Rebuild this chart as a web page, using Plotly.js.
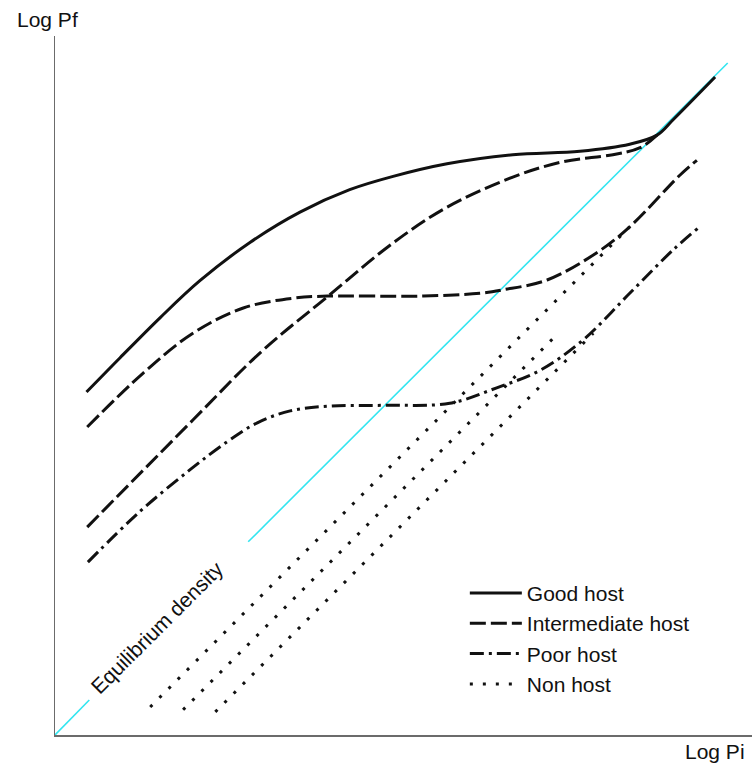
<!DOCTYPE html>
<html>
<head>
<meta charset="utf-8">
<script src="https://cdn.plot.ly/plotly-3.0.1.min.js"></script>
<style>html,body{margin:0;padding:0;background:#fff}#chart{width:752px;height:767px}</style>
</head>
<body>
<div id="chart"></div>
<script>
// Equilibrium density (Pf = Pi), broken where its label sits
const equilibriumX = [0, 0.49, null, 2.76, 9.61];
const equilibriumY = [0, 0.50, null, 2.76, 9.60];

// Good host
const goodX = [0.45, 0.93, 1.50, 2.07, 2.79, 3.50, 4.21, 4.83, 5.60, 6.54, 7.50, 8.21, 8.60, 8.83, 9.43];
const goodY = [4.90, 5.39, 5.96, 6.49, 7.04, 7.47, 7.79, 7.98, 8.16, 8.29, 8.34, 8.44, 8.57, 8.79, 9.40];

// Intermediate host (two curves)
const interAX = [0.46, 1.26, 1.97, 2.69, 3.40, 3.89, 5.21, 6.07, 6.40, 7.03, 7.74, 8.21, 8.93, 9.17];
const interAY = [4.40, 5.17, 5.74, 6.10, 6.24, 6.27, 6.27, 6.31, 6.36, 6.50, 6.89, 7.26, 8.00, 8.21];
const interBX = [0.46, 1.97, 2.93, 3.89, 4.83, 5.60, 6.54, 7.26, 7.97, 8.36, 8.60];
const interBY = [2.97, 4.50, 5.46, 6.26, 7.03, 7.54, 7.97, 8.19, 8.29, 8.39, 8.57];

// Poor host
const poorX = [0.47, 1.21, 1.93, 2.46, 2.89, 3.36, 3.93, 4.69, 5.64, 6.31, 6.93, 7.54, 8.21, 8.83, 9.21];
const poorY = [2.47, 3.19, 3.79, 4.19, 4.46, 4.63, 4.70, 4.71, 4.74, 4.96, 5.21, 5.64, 6.31, 6.93, 7.26];

// Non host (three lines)
const nonAX = [1.36, 7.74, 8.21];
const nonAY = [0.40, 6.79, 7.26];
const nonBX = [1.83, 7.19];
const nonBY = [0.36, 5.74];
const nonCX = [2.29, 7.69];
const nonCY = [0.33, 5.74];

const legendNames = ['Good host', 'Intermediate host', 'Poor host', 'Non host'];
const axisTitleX = 'Log Pi';
const axisTitleY = 'Log Pf';
const equilibriumLabel = 'Equilibrium density';
const labelPos = [1.46, 1.53];

const FONT = 'Liberation Sans, Arial, Helvetica, sans-serif';
const INK = '#111111';
const DASH_LONG = '16px,5px';
const DASH_DOTDASH = '14px,5px,3px,5px';
const DASH_DOT = '3px,10px';

function curve(x, y, name, dash, group, showlegend, shape) {
  return {
    type: 'scatter', mode: 'lines', x: x, y: y, name: name,
    legendgroup: group, showlegend: showlegend,
    line: {color: INK, width: 3, dash: dash, shape: shape || 'spline', smoothing: 1},
    hoverinfo: 'skip'
  };
}

const traces = [
  {type: 'scatter', mode: 'lines', x: equilibriumX, y: equilibriumY, showlegend: false,
   connectgaps: false, line: {color: '#33E5F0', width: 1.6}, hoverinfo: 'skip'},
  curve(goodX, goodY, legendNames[0], 'solid', 'g', true),
  curve(interAX, interAY, legendNames[1], DASH_LONG, 'i', true),
  curve(interBX, interBY, legendNames[1], DASH_LONG, 'i', false),
  curve(poorX, poorY, legendNames[2], DASH_DOTDASH, 'p', true),
  curve(nonAX, nonAY, legendNames[3], DASH_DOT, 'n', true, 'linear'),
  curve(nonBX, nonBY, legendNames[3], DASH_DOT, 'n', false, 'linear'),
  curve(nonCX, nonCY, legendNames[3], DASH_DOT, 'n', false, 'linear')
];

const axisCommon = {
  showline: true, linecolor: '#6b6b6b', linewidth: 1.5, mirror: false,
  showgrid: false, zeroline: false, showticklabels: false, ticks: '', fixedrange: true
};

const layout = {
  width: 752, height: 767,
  margin: {l: 55, r: 0, t: 36, b: 32},
  paper_bgcolor: '#ffffff', plot_bgcolor: '#ffffff',
  font: {family: FONT, size: 21, color: INK},
  xaxis: Object.assign({range: [0, 697 / 70]}, axisCommon),
  yaxis: Object.assign({range: [0, 699 / 70]}, axisCommon),
  showlegend: true,
  legend: {
    x: 0.588, xanchor: 'left', y: 0.232, yanchor: 'top',
    font: {family: FONT, size: 21, color: INK},
    itemwidth: 52, bgcolor: 'rgba(0,0,0,0)', traceorder: 'normal', tracegroupgap: 0
  },
  annotations: [
    {xref: 'paper', yref: 'paper', x: -0.057, y: 1.023, xanchor: 'left', yanchor: 'middle',
     text: axisTitleY, showarrow: false, font: {family: FONT, size: 21, color: INK}},
    {xref: 'paper', yref: 'paper', x: 0.993, y: -0.024, xanchor: 'right', yanchor: 'middle',
     text: axisTitleX, showarrow: false, font: {family: FONT, size: 21, color: INK}},
    {xref: 'x', yref: 'y', x: labelPos[0], y: labelPos[1], xanchor: 'center', yanchor: 'middle',
     text: equilibriumLabel, textangle: -45, showarrow: false, font: {family: FONT, size: 21, color: INK}}
  ]
};

Plotly.newPlot('chart', traces, layout, {staticPlot: true, displayModeBar: false});
</script>
</body>
</html>
